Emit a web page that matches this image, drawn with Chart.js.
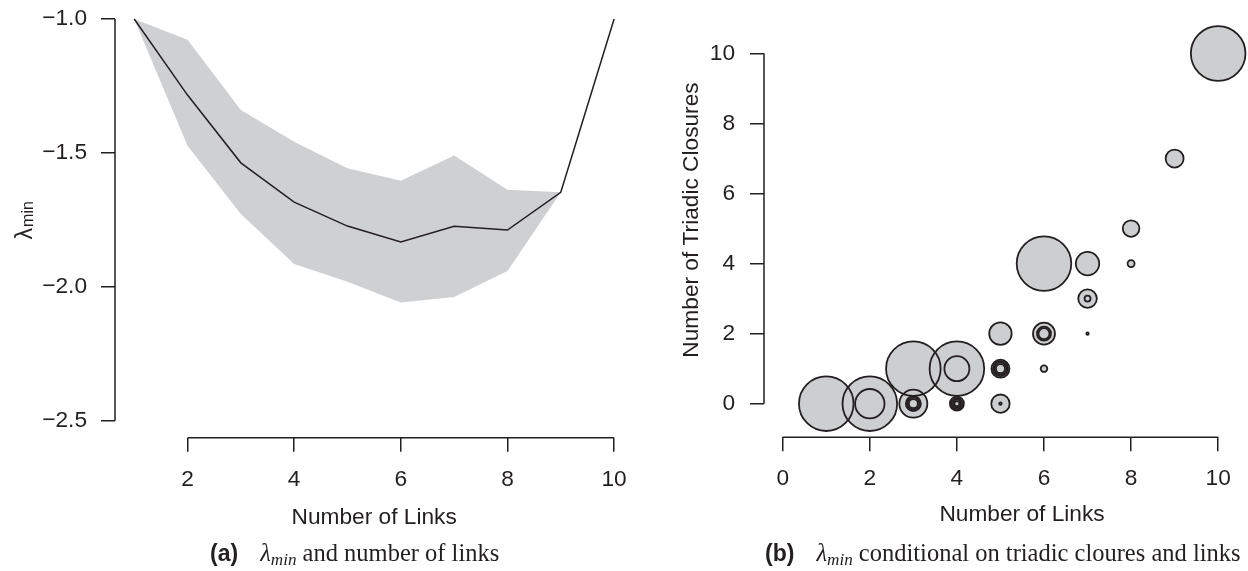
<!DOCTYPE html>
<html>
<head>
<meta charset="utf-8">
<script src="https://cdn.jsdelivr.net/npm/chart.js@4.4.0/dist/chart.umd.min.js"></script>
<style>
  html, body { margin:0; padding:0; background:#fff; overflow:hidden; }
  #wrap { position:relative; width:1248px; height:571px; overflow:hidden; }
  canvas { position:absolute; top:0; }
  #left { left:0; }
  #right { left:660px; }
  .cap { position:absolute; top:538px; line-height:30px; white-space:nowrap; color:#231f20;
         font-family:'Liberation Serif', 'Times New Roman', serif; font-size:24.5px; }
  .cap b { font-family:'Liberation Sans', Arial, sans-serif; font-size:23px; margin-right:22px; }
  .cap sub { font-size:0.7em; vertical-align:-0.25em; font-style:italic; }
</style>
</head>
<body>
<div id="wrap">
  <canvas id="left" width="660" height="571"></canvas>
  <canvas id="right" width="620" height="571"></canvas>
  <div class="cap" style="left:210px"><b>(a)</b><i>λ</i><sub>min</sub> and number of links</div>
  <div class="cap" style="left:765px"><b>(b)</b><i>λ</i><sub>min</sub> conditional on triadic cloures and links</div>
</div>
<script>
// (a) mean lambda_min per number of links, with the shaded range
var meanLinks  = [1, 2, 3, 4, 5, 6, 7, 8, 9, 10];
var meanLambda = [-1.0, -1.284, -1.537, -1.684, -1.773, -1.832, -1.774, -1.788, -1.647, -1.0];
var bandLinks  = [1, 2, 3, 4, 5, 6, 7, 8, 9];
var bandUpper  = [-1.0, -1.078, -1.340, -1.458, -1.557, -1.604, -1.510, -1.637, -1.647];
var bandLower  = [-1.0, -1.473, -1.728, -1.915, -1.981, -2.058, -2.038, -1.941, -1.647];
var leftXTicks = [2, 4, 6, 8, 10];
var leftYTicks = [-1.0, -1.5, -2.0, -2.5];

// (b) one circle per (links, triadic closures) entry
var bubbleLinks    = [1, 2, 2, 3, 3, 3, 3, 4, 4, 4, 4, 5, 5, 3, 4, 4, 5, 5, 5, 5, 6, 5, 6, 6, 6, 7, 7, 7, 6, 7, 8, 8, 9, 10];
var bubbleClosures = [0, 0, 0, 0, 0, 0, 0, 0, 0, 0, 0, 0, 0, 1, 1, 1, 1, 1, 1, 1, 1, 2, 2, 2, 2, 2, 3, 3, 4, 4, 4, 5, 7, 10];
var bubbleSize     = [27.3, 27.3, 14.7, 14, 7.5, 6, 4.5, 7, 5.5, 4, 2.5, 9.2, 1.2, 27.3, 27.3, 12.5, 9, 7.5, 6, 4.5, 3.3,
                      11.2, 11, 7, 5.5, 1.2, 9.3, 3, 27.3, 11.7, 3.5, 8.3, 9, 27.3];
var rightXTicks = [0, 2, 4, 6, 8, 10];
var rightYTicks = [0, 2, 4, 6, 8, 10];

var ink = '#231f20';
var grey = '#cfd0d2';

Chart.defaults.font.family = "'Liberation Sans', Arial, sans-serif";
Chart.defaults.font.size = 22.7;
Chart.defaults.color = ink;

function pts(xs, ys) {
	return xs.map(function (x, i) { return { x: x, y: ys[i] }; });
}

function setTicks(list) {
	return function (scale) {
		scale.ticks = list.map(function (v) { return { value: v }; });
	};
}

// fixed axis box, no extra padding for the edge labels
function fixBox(size) {
	return function (s) {
		if (s.isHorizontal()) { s.height = size; } else { s.width = size; }
		s.paddingTop = s.paddingBottom = s.paddingLeft = s.paddingRight = 0;
	};
}

// R style axes: the line only runs between first and last tick
var rAxes = {
	id: 'rAxes',
	afterDraw: function (chart) {
		var ctx = chart.ctx, a = chart.chartArea;
		var xs = chart.scales.x, ys = chart.scales.y;
		ctx.save();
		ctx.strokeStyle = ink;
		ctx.lineWidth = 1.5;
		ctx.beginPath();
		ctx.moveTo(xs.getPixelForValue(xs.ticks[0].value), a.bottom);
		ctx.lineTo(xs.getPixelForValue(xs.ticks[xs.ticks.length - 1].value), a.bottom);
		ctx.moveTo(a.left, ys.getPixelForValue(ys.ticks[0].value));
		ctx.lineTo(a.left, ys.getPixelForValue(ys.ticks[ys.ticks.length - 1].value));
		ctx.stroke();
		ctx.restore();
	}
};

// lambda_min label with subscript
var lambdaTitle = {
	id: 'lambdaTitle',
	afterDraw: function (chart) {
		var ctx = chart.ctx, a = chart.chartArea;
		ctx.save();
		ctx.translate(32, (a.top + a.bottom) / 2);
		ctx.rotate(-Math.PI / 2);
		ctx.fillStyle = ink;
		ctx.textBaseline = 'alphabetic';
		ctx.font = "23px 'Liberation Sans', Arial, sans-serif";
		var w1 = ctx.measureText('λ').width;
		ctx.font = "16px 'Liberation Sans', Arial, sans-serif";
		var w2 = ctx.measureText('min').width;
		var x0 = -(w1 + w2 + 1) / 2;
		ctx.font = "23px 'Liberation Sans', Arial, sans-serif";
		ctx.fillText('λ', x0, 0);
		ctx.font = "16px 'Liberation Sans', Arial, sans-serif";
		ctx.fillText('min', x0 + w1 + 1, 1);
		ctx.restore();
	}
};

function axisGrid() {
	return { display: true, drawOnChartArea: false, drawTicks: true, tickLength: 14, tickColor: ink, lineWidth: 1.5 };
}

new Chart(document.getElementById('left').getContext('2d'), {
	type: 'line',
	data: {
		datasets: [
			{ data: pts(bandLinks, bandLower), borderWidth: 0, pointRadius: 0, fill: false, order: 2 },
			{ data: pts(bandLinks, bandUpper), borderWidth: 0, pointRadius: 0, fill: '-1', backgroundColor: grey, order: 2 },
			{ data: pts(meanLinks, meanLambda), borderColor: ink, borderWidth: 1.5, pointRadius: 0, fill: false, tension: 0, order: 1 }
		]
	},
	options: {
		responsive: false,
		animation: false,
		events: [],
		layout: { padding: { top: 2.9, right: 26.7, left: 0, bottom: 0 } },
		plugins: { legend: { display: false }, tooltip: { enabled: false } },
		scales: {
			x: {
				type: 'linear', min: 0.64, max: 10.36,
				afterBuildTicks: setTicks(leftXTicks),
				afterFit: fixBox(133.3),
				grid: axisGrid(), border: { display: false },
				ticks: { padding: 14, maxRotation: 0 },
				title: { display: true, text: 'Number of Links', padding: { top: 0, bottom: 39.4 } }
			},
			y: {
				type: 'linear', min: -2.563, max: -0.94,
				afterBuildTicks: setTicks(leftYTicks),
				afterFit: fixBox(115),
				grid: axisGrid(), border: { display: false },
				ticks: {
					padding: 14,
					callback: function (v) { return (v < 0 ? '\u2212' : '') + Math.abs(v).toFixed(1); }
				}
			}
		}
	},
	plugins: [rAxes, lambdaTitle]
});

var bubbles = bubbleLinks.map(function (x, i) { return { x: x, y: bubbleClosures[i], r: bubbleSize[i] }; });

new Chart(document.getElementById('right').getContext('2d'), {
	type: 'bubble',
	data: {
		datasets: [
			{ data: bubbles, backgroundColor: '#cdcecf', borderWidth: 0, clip: false, order: 2 },
			{ data: bubbles, backgroundColor: 'rgba(0,0,0,0)', borderColor: ink, borderWidth: 1.8, clip: false, order: 1 }
		]
	},
	options: {
		responsive: false,
		animation: false,
		events: [],
		layout: { autoPadding: false, padding: { top: 2.7, right: 0, left: 0, bottom: 0 } },
		plugins: { legend: { display: false }, tooltip: { enabled: false } },
		scales: {
			x: {
				type: 'linear', min: -0.43, max: 11.42,
				afterBuildTicks: setTicks(rightXTicks),
				afterFit: fixBox(133.7),
				grid: axisGrid(), border: { display: false },
				ticks: { padding: 14, maxRotation: 0 },
				title: { display: true, text: 'Number of Links', padding: { top: 0, bottom: 42.4 } }
			},
			y: {
				type: 'linear', min: -0.96, max: 11.45,
				afterBuildTicks: setTicks(rightYTicks),
				afterFit: fixBox(104),
				grid: axisGrid(), border: { display: false },
				ticks: { padding: 15 },
				title: { display: true, text: 'Number of Triadic Closures', padding: { top: 18.4, bottom: 0 } }
			}
		}
	},
	plugins: [rAxes]
});
</script>
</body>
</html>
